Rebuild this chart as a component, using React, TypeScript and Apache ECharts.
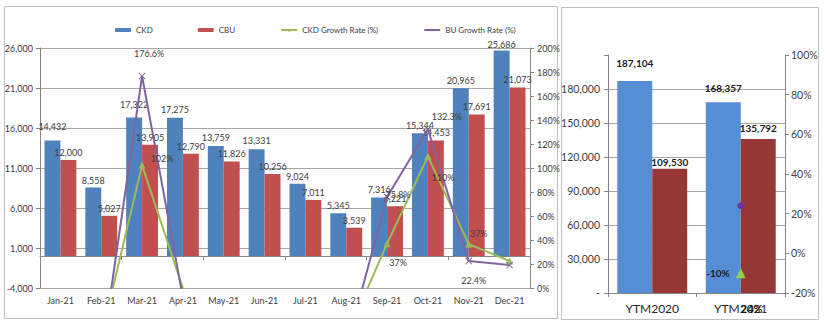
import React, { useEffect, useRef } from 'react';
import * as echarts from 'echarts';

// ---- Left chart data (monthly 2021) ----
const months = ['Jan-21', 'Feb-21', 'Mar-21', 'Apr-21', 'May-21', 'Jun-21', 'Jul-21', 'Aug-21', 'Sep-21', 'Oct-21', 'Nov-21', 'Dec-21'];
const ckd = [14432, 8558, 17322, 17275, 13759, 13331, 9024, 5345, 7316, 15344, 20965, 25686];
const cbu = [12000, 5027, 13905, 12790, 11826, 10256, 7011, 3539, 6221, 14453, 17691, 21073];
const ckdGrowth = [null, -40.7, 102.4, -0.3, -20.4, -3.1, -32.3, -40.8, 36.9, 109.7, 36.6, 22.5];
const buGrowth = [null, -58.1, 176.6, -8.0, -7.5, -13.3, -31.6, -49.5, 75.8, 132.3, 22.4, 19.1];
const ckdGrowthText = ['', '', '102%', '', '', '', '', '', '37%', '110%', '37%', ''];
const buGrowthText = ['', '', '176.6%', '', '', '', '', '', '75.8%', '132.3%', '22.4%', ''];

// ---- Right chart data (year to month) ----
const ytmCategories = ['YTM2020', 'YTM2021'];
const ytmCkd = [187104, 168357];
const ytmCbu = [109530, 135792];
const ytmCkdGrowth = [null, -10];
const ytmBuGrowth = [null, 24];
const ytmCkdGrowthText = ['', '-10%'];
const ytmBuGrowthText = ['', '24%'];

// ---- Axis ranges ----
const leftAxis = { min: -4000, max: 26000, step: 5000 };
const leftPctAxis = { min: 0, max: 200, step: 20 };
const rightAxis = { min: 0, max: 210000, step: 30000 };
const rightPctAxis = { min: -20, max: 100, step: 20 };

const fmt = (v: number) => Number(v).toLocaleString('en-US');

// label placement (styling only)
const ckdLabelOffsets: Record<number, [number, number]> = { 2: [20, -7], 8: [11, 19], 9: [15, 21], 10: [10, -11] };
const buLabelOffsets: Record<number, [number, number]> = { 2: [7, -23], 8: [11, -3], 9: [19, -13], 10: [5, 19] };
const ckdBarLabelDist = [10, 3, 8, 4, 4, 4, 3, 3, 3, 3, 3, 2];
const ytmCkdLabelDist = [13, 9];
const ytmCbuLabelDist = [2, 6];

export default function App() {
  const ref = useRef<HTMLDivElement>(null);
  useEffect(() => {
    document.body.style.margin = '0';
    const chart = echarts.init(ref.current!, null, { renderer: 'svg' });
    const font = 'Lato, "Liberation Sans", sans-serif';
    const axisColor = '#868686';
    const textColor = '#404040';

    const growthData = (vals: (number | null)[], texts: string[], offs: Record<number, [number, number]>) =>
      vals.map((v, i) => ({
        value: v,
        label: texts[i]
          ? { show: true, position: 'inside', offset: offs[i] || [0, 0], formatter: texts[i], fontSize: 9, color: textColor, fontFamily: font }
          : { show: false },
      }));

    const barData = (vals: number[], dists: number[], base: any) =>
      vals.map((v, i) => ({ value: v, label: { ...base, distance: dists[i] } }));

    const smallBarLabel = { show: true, position: 'top', fontSize: 9, color: textColor, formatter: (p: any) => fmt(p.value) };
    const boldBarLabel = { show: true, position: 'top', fontSize: 10, fontWeight: 'bold', color: '#1a1a1a', formatter: (p: any) => fmt(p.value) };

    const option: any = {
      animation: false,
      textStyle: { fontFamily: font },
      graphic: [
        { type: 'rect', shape: { x: 4.5, y: 6.5, width: 553, height: 312 }, style: { fill: 'none', stroke: '#bfbfbf', lineWidth: 1 } },
        { type: 'rect', shape: { x: 561.5, y: 7.5, width: 257, height: 312 }, style: { fill: 'none', stroke: '#bfbfbf', lineWidth: 1 } },
      ],
      legend: {
        left: 110,
        top: 21,
        itemGap: 45,
        itemWidth: 16,
        itemHeight: 4,
        textStyle: { fontSize: 8, color: textColor, fontFamily: font },
        data: ['CKD', 'CBU', 'CKD Growth Rate (%)', 'BU Growth Rate (%)'],
      },
      grid: [
        { left: 40, top: 48, width: 490, height: 240 },
        { left: 608, top: 55, width: 177, height: 238 },
      ],
      xAxis: [
        {
          gridIndex: 0, type: 'category', data: months,
          axisLine: { onZero: true, onZeroAxisIndex: 0, lineStyle: { color: axisColor } },
          axisTick: { show: true, length: 4, lineStyle: { color: axisColor } },
          axisLabel: { show: false },
        },
        {
          gridIndex: 0, type: 'category', data: months, position: 'bottom',
          axisLine: { show: false, onZero: false },
          axisTick: { show: false },
          axisLabel: { fontSize: 9, color: textColor, margin: 8 },
        },
        {
          gridIndex: 1, type: 'category', data: ytmCategories,
          axisLine: { lineStyle: { color: axisColor } },
          axisTick: { show: true, length: 4, lineStyle: { color: axisColor } },
          axisLabel: { fontSize: 12, color: '#262626', margin: 9 },
        },
      ],
      yAxis: [
        {
          gridIndex: 0, type: 'value', position: 'left', min: leftAxis.min, max: leftAxis.max, interval: leftAxis.step,
          axisLine: { show: true, lineStyle: { color: axisColor } },
          axisTick: { show: true, length: 4, lineStyle: { color: axisColor } },
          axisLabel: { fontSize: 9, color: textColor, margin: 7, formatter: (v: number) => fmt(v) },
          splitLine: { show: true, lineStyle: { color: '#a6a6a6' } },
        },
        {
          gridIndex: 0, type: 'value', position: 'right', min: leftPctAxis.min, max: leftPctAxis.max, interval: leftPctAxis.step,
          axisLine: { show: true, lineStyle: { color: axisColor } },
          axisTick: { show: true, length: 4, lineStyle: { color: axisColor } },
          axisLabel: { fontSize: 9, color: textColor, margin: 7, formatter: '{value}%' },
          splitLine: { show: false },
        },
        {
          gridIndex: 1, type: 'value', position: 'left', min: rightAxis.min, max: rightAxis.max, interval: rightAxis.step,
          axisLine: { show: true, lineStyle: { color: axisColor } },
          axisTick: { show: true, length: 4, lineStyle: { color: axisColor } },
          axisLabel: {
            fontSize: 10.5, color: textColor, margin: 8,
            formatter: (v: number) => (v === 0 ? '-' : v === rightAxis.max ? '' : fmt(v)),
          },
          splitLine: { show: true, showMaxLine: false, lineStyle: { color: '#a6a6a6' } },
        },
        {
          gridIndex: 1, type: 'value', position: 'right', min: rightPctAxis.min, max: rightPctAxis.max, interval: rightPctAxis.step,
          axisLine: { show: true, lineStyle: { color: axisColor } },
          axisTick: { show: true, length: 4, lineStyle: { color: axisColor } },
          axisLabel: { fontSize: 10.5, color: textColor, margin: 6, formatter: '{value}%' },
          splitLine: { show: false },
        },
      ],
      series: [
        {
          name: 'CKD', type: 'bar', xAxisIndex: 0, yAxisIndex: 0,
          data: barData(ckd, ckdBarLabelDist, smallBarLabel),
          barGap: '0%', barCategoryGap: '22%',
          itemStyle: { color: '#4F81BD' },
          label: { ...smallBarLabel, distance: 3 },
        },
        {
          name: 'CBU', type: 'bar', xAxisIndex: 0, yAxisIndex: 0, data: cbu,
          barGap: '0%', barCategoryGap: '22%',
          itemStyle: { color: '#C0504D' },
          label: { ...smallBarLabel, distance: 3 },
        },
        {
          name: 'CKD Growth Rate (%)', type: 'line', xAxisIndex: 0, yAxisIndex: 1,
          data: growthData(ckdGrowth, ckdGrowthText, ckdLabelOffsets),
          symbol: 'triangle', symbolSize: 7, clip: true,
          lineStyle: { color: '#9BBB59', width: 2 }, itemStyle: { color: '#9BBB59' },
        },
        {
          name: 'BU Growth Rate (%)', type: 'line', xAxisIndex: 0, yAxisIndex: 1,
          data: growthData(buGrowth, buGrowthText, buLabelOffsets),
          symbol: 'path://M0,1L1,0L5,4L9,0L10,1L6,5L10,9L9,10L5,6L1,10L0,9L4,5Z', symbolSize: 7, clip: true,
          lineStyle: { color: '#8064A2', width: 2 }, itemStyle: { color: '#8064A2' },
        },
        {
          name: 'CKD YTM', type: 'bar', xAxisIndex: 2, yAxisIndex: 2,
          data: barData(ytmCkd, ytmCkdLabelDist, boldBarLabel),
          barGap: '0%', barCategoryGap: '21%',
          itemStyle: { color: '#558ED5' },
          label: { ...boldBarLabel, distance: 8 },
        },
        {
          name: 'CBU YTM', type: 'bar', xAxisIndex: 2, yAxisIndex: 2,
          data: barData(ytmCbu, ytmCbuLabelDist, boldBarLabel),
          barGap: '0%', barCategoryGap: '21%',
          itemStyle: { color: '#953735' },
          label: { ...boldBarLabel, distance: 4 },
        },
        {
          name: 'CKD Growth YTM', type: 'line', xAxisIndex: 2, yAxisIndex: 3,
          data: ytmCkdGrowth.map((v, i) => ({
            value: v,
            label: ytmCkdGrowthText[i]
              ? { show: true, position: 'left', distance: 6, formatter: ytmCkdGrowthText[i], fontSize: 10, fontWeight: 'bold', color: '#1a1a1a' }
              : { show: false },
          })),
          symbol: 'triangle', symbolSize: 10,
          itemStyle: { color: '#92D050' }, lineStyle: { color: '#92D050' },
        },
        {
          name: 'BU Growth YTM', type: 'line', xAxisIndex: 2, yAxisIndex: 3,
          data: ytmBuGrowth.map((v, i) => ({
            value: v,
            label: ytmBuGrowthText[i]
              ? { show: true, position: 'inside', offset: [11, 103], formatter: ytmBuGrowthText[i], fontSize: 11, fontWeight: 'bold', color: '#1a1a1a' }
              : { show: false },
          })),
          symbol: 'circle', symbolSize: 7,
          itemStyle: { color: '#7030A0' }, lineStyle: { color: '#7030A0' },
        },
      ],
    };
    chart.setOption(option);
    return () => chart.dispose();
  }, []);
  return <div ref={ref} style={{ position: 'absolute', left: 0, top: 0, width: 827, height: 327 }} />;
}
